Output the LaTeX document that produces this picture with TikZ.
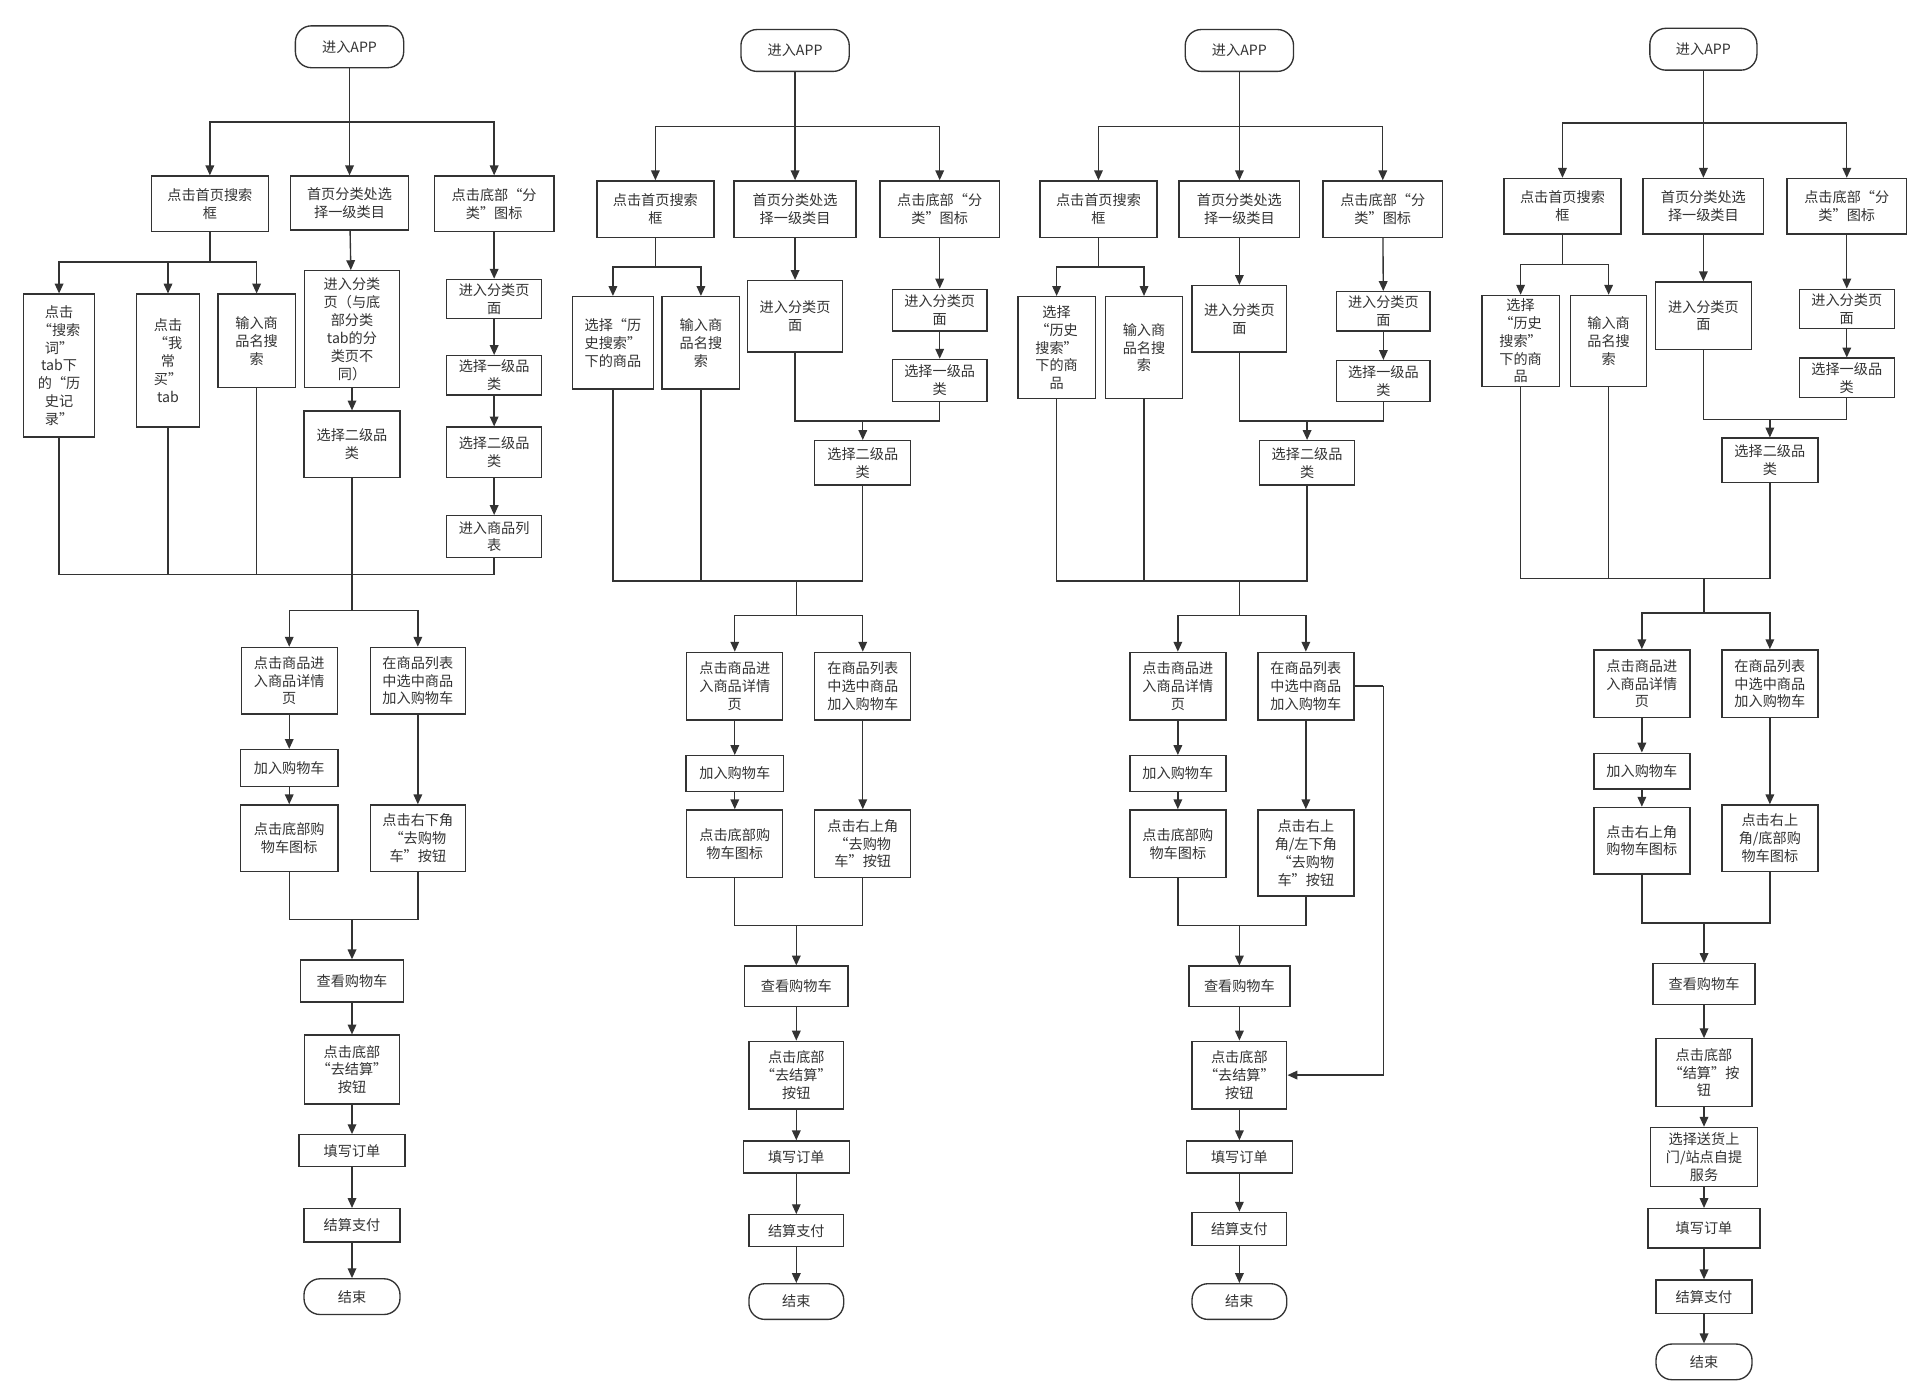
\documentclass[tikz,border=0pt]{standalone}
\usepackage{fontspec}
\newfontfamily\cjk{Noto Sans CJK SC}
\usetikzlibrary{arrows.meta}
\definecolor{linecol}{rgb}{0.2,0.2,0.2}
\tikzset{
  box/.style={rectangle, draw=linecol, line width=1.1pt, fill=white, align=center, inner sep=0pt, text=black!80, font=\cjk\fontsize{11.5}{14.5}\selectfont},
  term/.style={box, rounded corners=13pt},
  sz/.style n args={2}{minimum width=#1pt, minimum height=#2pt},
  line/.style={draw=linecol, line width=1.1pt},
  arrow/.style={line, -{Triangle[length=8pt,width=7pt]}}
}
\begin{document}
\begin{tikzpicture}[x=1pt, y=-1pt]
  \useasboundingbox (0,0) rectangle (1560,1133);

  % ---------- Column 1 ----------
  \node (s1) [term, sz={88}{34}] at (284,38) {进入APP};
  \node (srch1) [box, sz={95}{45}] at (170.5,165.5) {点击首页搜索\\框};
  \node (cat1) [box, sz={96}{44}] at (284,165) {首页分类处选\\择一级类目};
  \node (tab1) [box, sz={97}{45}] at (401.5,165.5) {点击底部“分\\类”图标};
  \node (hist1) [box, sz={58}{116}] at (48,297) {点击\\“搜索\\词”\\tab下\\的“历\\史记\\录”};
  \node (freq1) [box, sz={51}{108}] at (136.5,293) {点击\\“我\\常\\买”\\tab};
  \node (name1) [box, sz={63}{76}] at (208.5,277) {输入商\\品名搜\\索};
  \node (page1) [box, sz={77}{95}] at (286,267.5) {进入分类\\页（与底\\部分类\\tab的分\\类页不\\同）};
  \node (second1) [box, sz={78}{54}] at (286,361) {选择二级品\\类};
  \node (cpage1) [box, sz={77}{32}] at (401.5,243) {进入分类页\\面};
  \node (first1) [box, sz={77}{32}] at (401.5,305) {选择一级品\\类};
  \node (sec1) [box, sz={77}{41}] at (401.5,367.5) {选择二级品\\类};
  \node (list1) [box, sz={77}{34}] at (401.5,436) {进入商品列\\表};
  \node (det1) [box, sz={78}{54}] at (235,553) {点击商品进\\入商品详情\\页};
  \node (add1) [box, sz={77}{54}] at (339.5,553) {在商品列表\\中选中商品\\加入购物车};
  \node (gadd1) [box, sz={79}{30}] at (235,624) {加入购物车};
  \node (cart1) [box, sz={79}{54}] at (235,681) {点击底部购\\物车图标};
  \node (go1) [box, sz={77}{54}] at (339.5,681) {点击右下角\\“去购物\\车”按钮};
  \node (view1) [box, sz={84}{34}] at (286,797) {查看购物车};
  \node (btn1) [box, sz={77}{56}] at (286,869) {点击底部\\“去结算”\\按钮};
  \node (fill1) [box, sz={86}{26}] at (286,935) {填写订单};
  \node (pay1) [box, sz={78}{27}] at (286,995.5) {结算支付};
  \node (end1) [term, sz={78}{29}] at (286,1053.5) {结束};

  \coordinate (top1) at (284,99);
  \coordinate (sb1) at (170.5,213);
  \coordinate (m1) at (286,467);
  \coordinate (eb1) at (286,496);
  \coordinate (j1) at (286,747);
  \draw [line] (s1) -- (top1);
  \draw [arrow] (top1) -| (srch1);
  \draw [arrow] (top1) -- (cat1);
  \draw [arrow] (top1) -| (tab1);
  \draw [line] (srch1) -- (sb1);
  \draw [arrow] (sb1) -| (hist1);
  \draw [arrow] (sb1) -| (freq1);
  \draw [arrow] (sb1) -| (name1);
  \draw [arrow] (cat1) -- (page1);
  \draw [arrow] (page1) -- (second1);
  \draw [arrow] (tab1) -- (cpage1);
  \draw [arrow] (cpage1) -- (first1);
  \draw [arrow] (first1) -- (sec1);
  \draw [arrow] (sec1) -- (list1);
  \draw [line] (hist1) |- (m1);
  \draw [line] (freq1) |- (m1);
  \draw [line] (name1) |- (m1);
  \draw [line] (second1) -- (m1);
  \draw [line] (list1) |- (m1);
  \draw [line] (m1) -- (eb1);
  \draw [arrow] (eb1) -| (det1);
  \draw [arrow] (eb1) -| (add1);
  \draw [arrow] (det1) -- (gadd1);
  \draw [arrow] (gadd1) -- (cart1);
  \draw [arrow] (add1) -- (go1);
  \draw [line] (cart1) |- (j1);
  \draw [line] (go1) |- (j1);
  \draw [arrow] (j1) -- (view1);
  \draw [arrow] (view1) -- (btn1);
  \draw [arrow] (btn1) -- (fill1);
  \draw [arrow] (fill1) -- (pay1);
  \draw [arrow] (pay1) -- (end1);

  % ---------- Column 2 ----------
  \node (s2) [term, sz={88}{34}] at (646,41) {进入APP};
  \node (srch2) [box, sz={95}{46}] at (532.5,170) {点击首页搜索\\框};
  \node (cat2) [box, sz={99}{46}] at (646,170) {首页分类处选\\择一级类目};
  \node (tab2) [box, sz={97}{46}] at (763.5,170) {点击底部“分\\类”图标};
  \node (hist2) [box, sz={66}{75}] at (498,278.5) {选择“历\\史搜索”\\下的商品};
  \node (name2) [box, sz={63}{75}] at (569.5,278.5) {输入商\\品名搜\\索};
  \node (page2) [box, sz={77}{58}] at (646,257) {进入分类页\\面};
  \node (cpage2) [box, sz={77}{34}] at (763.5,252) {进入分类页\\面};
  \node (first2) [box, sz={77}{34}] at (763.5,309) {选择一级品\\类};
  \node (second2) [box, sz={78}{36}] at (701,376) {选择二级品\\类};
  \node (det2) [box, sz={78}{55}] at (597,557.5) {点击商品进\\入商品详情\\页};
  \node (add2) [box, sz={78}{55}] at (701,557.5) {在商品列表\\中选中商品\\加入购物车};
  \node (gadd2) [box, sz={79}{29}] at (597,628.5) {加入购物车};
  \node (cart2) [box, sz={78}{55}] at (597,685.5) {点击底部购\\物车图标};
  \node (go2) [box, sz={78}{55}] at (701,685.5) {点击右上角\\“去购物\\车”按钮};
  \node (view2) [box, sz={84}{33}] at (647,801.5) {查看购物车};
  \node (btn2) [box, sz={77}{55}] at (647,873.5) {点击底部\\“去结算”\\按钮};
  \node (fill2) [box, sz={86}{26}] at (647,940) {填写订单};
  \node (pay2) [box, sz={77}{26}] at (647,1000) {结算支付};
  \node (end2) [term, sz={77}{29}] at (647,1057.5) {结束};

  \coordinate (top2) at (646,103);
  \coordinate (sb2) at (532.5,217);
  \coordinate (cj2) at (701,342);
  \coordinate (m2) at (647,472);
  \coordinate (eb2) at (647,500);
  \coordinate (j2) at (647,752);
  \draw [line] (s2) -- (top2);
  \draw [arrow] (top2) -| (srch2);
  \draw [arrow] (top2) -- (cat2);
  \draw [arrow] (top2) -| (tab2);
  \draw [line] (srch2) -- (sb2);
  \draw [arrow] (sb2) -| (hist2);
  \draw [arrow] (sb2) -| (name2);
  \draw [arrow] (cat2) -- (page2);
  \draw [arrow] (tab2) -- (cpage2);
  \draw [arrow] (cpage2) -- (first2);
  \draw [line] (page2) |- (cj2);
  \draw [line] (first2) |- (cj2);
  \draw [arrow] (cj2) -- (second2);
  \draw [line] (hist2) |- (m2);
  \draw [line] (name2) |- (m2);
  \draw [line] (second2) |- (m2);
  \draw [line] (m2) -- (eb2);
  \draw [arrow] (eb2) -| (det2);
  \draw [arrow] (eb2) -| (add2);
  \draw [arrow] (det2) -- (gadd2);
  \draw [arrow] (gadd2) -- (cart2);
  \draw [arrow] (add2) -- (go2);
  \draw [line] (cart2) |- (j2);
  \draw [line] (go2) |- (j2);
  \draw [arrow] (j2) -- (view2);
  \draw [arrow] (view2) -- (btn2);
  \draw [arrow] (btn2) -- (fill2);
  \draw [arrow] (fill2) -- (pay2);
  \draw [arrow] (pay2) -- (end2);

  % ---------- Column 3 ----------
  \node (s3) [term, sz={88}{34}] at (1007,41) {进入APP};
  \node (srch3) [box, sz={95}{46}] at (892.5,170) {点击首页搜索\\框};
  \node (cat3) [box, sz={98}{46}] at (1007,170) {首页分类处选\\择一级类目};
  \node (tab3) [box, sz={97}{46}] at (1123.5,170) {点击底部“分\\类”图标};
  \node (hist3) [box, sz={63}{83}] at (858.5,282.5) {选择\\“历史\\搜索”\\下的商\\品};
  \node (name3) [box, sz={63}{83}] at (929.5,282.5) {输入商\\品名搜\\索};
  \node (page3) [box, sz={77}{54}] at (1007,259) {进入分类页\\面};
  \node (cpage3) [box, sz={76}{32}] at (1124,253) {进入分类页\\面};
  \node (first3) [box, sz={76}{33}] at (1124,309.5) {选择一级品\\类};
  \node (second3) [box, sz={77}{36}] at (1062,376) {选择二级品\\类};
  \node (det3) [box, sz={78}{55}] at (957,557.5) {点击商品进\\入商品详情\\页};
  \node (add3) [box, sz={78}{55}] at (1061,557.5) {在商品列表\\中选中商品\\加入购物车};
  \node (gadd3) [box, sz={78}{29}] at (957,628.5) {加入购物车};
  \node (cart3) [box, sz={78}{55}] at (957,685.5) {点击底部购\\物车图标};
  \node (go3) [box, sz={78}{70}] at (1061,693) {点击右上\\角/左下角\\“去购物\\车”按钮};
  \node (view3) [box, sz={82}{33}] at (1007,801.5) {查看购物车};
  \node (btn3) [box, sz={77}{55}] at (1007,873.5) {点击底部\\“去结算”\\按钮};
  \node (fill3) [box, sz={86}{26}] at (1007,940) {填写订单};
  \node (pay3) [box, sz={77}{27}] at (1007,998.5) {结算支付};
  \node (end3) [term, sz={77}{29}] at (1007,1057.5) {结束};

  \coordinate (top3) at (1007,103);
  \coordinate (sb3) at (892.5,217);
  \coordinate (cj3) at (1062,342);
  \coordinate (m3) at (1007,472);
  \coordinate (eb3) at (1007,500);
  \coordinate (j3) at (1007,752);
  \coordinate (rt3) at (1124,557.5);
  \draw [line] (s3) -- (top3);
  \draw [arrow] (top3) -| (srch3);
  \draw [arrow] (top3) -- (cat3);
  \draw [arrow] (top3) -| (tab3);
  \draw [line] (srch3) -- (sb3);
  \draw [arrow] (sb3) -| (hist3);
  \draw [arrow] (sb3) -| (name3);
  \draw [arrow] (cat3) -- (page3);
  \draw [arrow] (tab3) -- (cpage3);
  \draw [arrow] (cpage3) -- (first3);
  \draw [line] (page3) |- (cj3);
  \draw [line] (first3) |- (cj3);
  \draw [arrow] (cj3) -- (second3);
  \draw [line] (hist3) |- (m3);
  \draw [line] (name3) |- (m3);
  \draw [line] (second3) |- (m3);
  \draw [line] (m3) -- (eb3);
  \draw [arrow] (eb3) -| (det3);
  \draw [arrow] (eb3) -| (add3);
  \draw [arrow] (det3) -- (gadd3);
  \draw [arrow] (gadd3) -- (cart3);
  \draw [arrow] (add3) -- (go3);
  \draw [line] (add3) -- (rt3);
  \draw [arrow] (rt3) |- (btn3);
  \draw [line] (cart3) |- (j3);
  \draw [line] (go3) |- (j3);
  \draw [arrow] (j3) -- (view3);
  \draw [arrow] (view3) -- (btn3);
  \draw [arrow] (btn3) -- (fill3);
  \draw [arrow] (fill3) -- (pay3);
  \draw [arrow] (pay3) -- (end3);

  % ---------- Column 4 ----------
  \node (s4) [term, sz={87}{34}] at (1384,40) {进入APP};
  \node (srch4) [box, sz={95}{45}] at (1269.5,167.5) {点击首页搜索\\框};
  \node (cat4) [box, sz={98}{45}] at (1384,167.5) {首页分类处选\\择一级类目};
  \node (tab4) [box, sz={97}{45}] at (1500.5,167.5) {点击底部“分\\类”图标};
  \node (hist4) [box, sz={63}{74}] at (1235.5,277) {选择\\“历史\\搜索”\\下的商\\品};
  \node (name4) [box, sz={62}{74}] at (1307,277) {输入商\\品名搜\\索};
  \node (page4) [box, sz={78}{55}] at (1384,256.5) {进入分类页\\面};
  \node (cpage4) [box, sz={77}{32}] at (1500.5,251) {进入分类页\\面};
  \node (first4) [box, sz={77}{32}] at (1500.5,307) {选择一级品\\类};
  \node (second4) [box, sz={78}{36}] at (1438,374) {选择二级品\\类};
  \node (det4) [box, sz={78}{55}] at (1334,555.5) {点击商品进\\入商品详情\\页};
  \node (add4) [box, sz={78}{55}] at (1438,555.5) {在商品列表\\中选中商品\\加入购物车};
  \node (gadd4) [box, sz={78}{29}] at (1334,626.5) {加入购物车};
  \node (cart4) [box, sz={78}{54}] at (1334,683) {点击右上角\\购物车图标};
  \node (go4) [box, sz={78}{54}] at (1438,681) {点击右上\\角/底部购\\物车图标};
  \node (view4) [box, sz={83}{33}] at (1384.5,799.5) {查看购物车};
  \node (btn4) [box, sz={78}{55}] at (1384.5,871.5) {点击底部\\“结算”按\\钮};
  \node (svc4) [box, sz={87}{48}] at (1384.5,940) {选择送货上\\门/站点自提\\服务};
  \node (fill4) [box, sz={91}{32}] at (1384.5,998) {填写订单};
  \node (pay4) [box, sz={78}{27}] at (1384.5,1053.5) {结算支付};
  \node (end4) [term, sz={78}{29}] at (1384.5,1106.5) {结束};

  \coordinate (top4) at (1384,100);
  \coordinate (sb4) at (1269.5,215);
  \coordinate (cj4) at (1438,341);
  \coordinate (m4) at (1384.5,470);
  \coordinate (eb4) at (1384.5,498);
  \coordinate (j4) at (1384.5,750);
  \draw [line] (s4) -- (top4);
  \draw [arrow] (top4) -| (srch4);
  \draw [arrow] (top4) -- (cat4);
  \draw [arrow] (top4) -| (tab4);
  \draw [line] (srch4) -- (sb4);
  \draw [arrow] (sb4) -| (hist4);
  \draw [arrow] (sb4) -| (name4);
  \draw [arrow] (cat4) -- (page4);
  \draw [arrow] (tab4) -- (cpage4);
  \draw [arrow] (cpage4) -- (first4);
  \draw [line] (page4) |- (cj4);
  \draw [line] (first4) |- (cj4);
  \draw [arrow] (cj4) -- (second4);
  \draw [line] (hist4) |- (m4);
  \draw [line] (name4) |- (m4);
  \draw [line] (second4) |- (m4);
  \draw [line] (m4) -- (eb4);
  \draw [arrow] (eb4) -| (det4);
  \draw [arrow] (eb4) -| (add4);
  \draw [arrow] (det4) -- (gadd4);
  \draw [arrow] (gadd4) -- (cart4);
  \draw [arrow] (add4) -- (go4);
  \draw [line] (cart4) |- (j4);
  \draw [line] (go4) |- (j4);
  \draw [arrow] (j4) -- (view4);
  \draw [arrow] (view4) -- (btn4);
  \draw [arrow] (btn4) -- (svc4);
  \draw [arrow] (svc4) -- (fill4);
  \draw [arrow] (fill4) -- (pay4);
  \draw [arrow] (pay4) -- (end4);
\end{tikzpicture}
\end{document}
